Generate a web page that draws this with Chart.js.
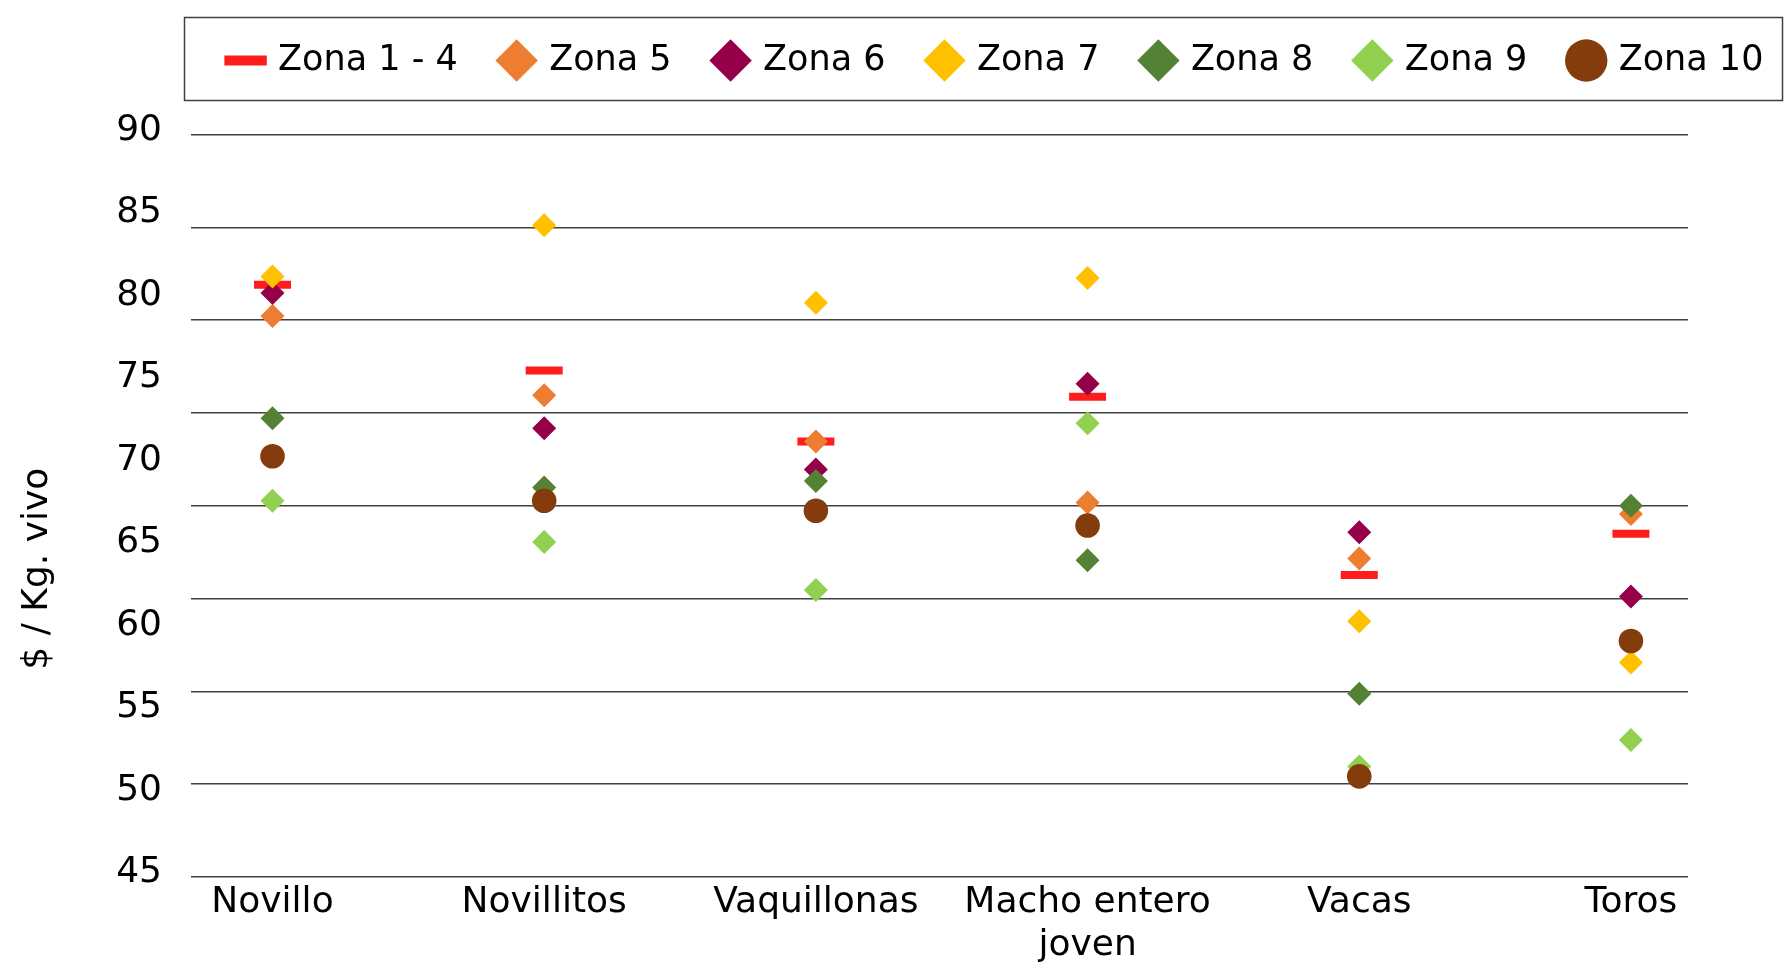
<!DOCTYPE html>
<html>
<head>
<meta charset="utf-8">
<script src="https://cdn.jsdelivr.net/npm/chart.js@4/dist/chart.umd.min.js"></script>
<style>
  html, body { margin: 0; padding: 0; background: #ffffff; }
  #wrap { position: relative; width: 1785px; height: 966px; }
</style>
</head>
<body>
<div id="wrap"><canvas id="c"></canvas></div>
<script>
// ---- data ----
const categories = ['Novillo', 'Novillitos', 'Vaquillonas', ['Macho entero', 'joven'], 'Vacas', 'Toros'];
const seriesNames = ['Zona 1 - 4', 'Zona 5', 'Zona 6', 'Zona 7', 'Zona 8', 'Zona 9', 'Zona 10'];
const zona1a4 = [80.9, 75.7, 71.4, 74.1, 63.3, 65.8];
const zona5   = [79.0, 74.2, 71.4, 67.7, 64.3, 67.0];
const zona6   = [80.4, 72.2, 69.7, 74.9, 65.9, 62.0];
const zona7   = [81.4, 84.5, 79.8, 81.3, 60.5, 58.0];
const zona8   = [72.8, 68.6, 69.0, 64.2, 56.1, 67.5];
const zona9   = [67.8, 65.3, 62.4, 72.5, 51.7, 53.3];
const zona10  = [70.5, 67.8, 67.2, 66.3, 51.1, 59.3];
const yTicks = [45, 50, 55, 60, 65, 70, 75, 80, 85, 90];
const yTitle = '$ / Kg. vivo';

// ---- styles ----
const seriesValues = [zona1a4, zona5, zona6, zona7, zona8, zona9, zona10];
const colors = ['#FF1C1C', '#ED7D31', '#960048', '#FFC000', '#548235', '#92D050', '#843C0C'];
const styles = ['line', 'rectRot', 'rectRot', 'rectRot', 'rectRot', 'rectRot', 'circle'];
const FONT = "'DejaVu Sans', sans-serif";
Chart.defaults.font.family = FONT;
Chart.defaults.color = '#000000';

const datasets = seriesValues.map((vals, s) => {
  const isLine = styles[s] === 'line';
  return {
    label: seriesNames[s],
    data: vals.map((v, i) => ({ x: i, y: v })),
    showLine: false,
    pointStyle: styles[s],
    pointRadius: isLine ? 18.5 : (styles[s] === 'circle' ? 12.3 : 12),
    pointHoverRadius: isLine ? 18.5 : 12,
    backgroundColor: colors[s],
    borderColor: colors[s],
    pointBackgroundColor: colors[s],
    pointBorderColor: colors[s],
    pointBorderWidth: isLine ? 8 : 0,
    order: seriesValues.length - s,
    xAxisID: 'x',
    yAxisID: 'y'
  };
});

const legendTweak = {
  id: 'legendTweak',
  afterLayout(chart) {
    const lg = chart.legend;
    if (lg) {
      lg.left = 109; lg.right = 1885;
      lg.top = -1; lg.bottom = lg.top + lg.height;
    }
  },
  afterDraw(chart) {
    const ctx = chart.ctx;
    ctx.save();
    ctx.strokeStyle = '#404040';
    ctx.lineWidth = 1.5;
    ctx.strokeRect(184.5, 17.5, 1598, 83);
    ctx.restore();
  }
};

new Chart(document.getElementById('c'), {
  type: 'scatter',
  data: { datasets },
  plugins: [legendTweak],
  options: {
    responsive: true,
    maintainAspectRatio: false,
    animation: false,
    layout: { padding: 0 },
    plugins: {
      tooltip: { enabled: false },
      legend: {
        display: true,
        position: 'top',
        align: 'center',
        labels: {
          usePointStyle: true,
          boxWidth: 30,
          boxHeight: 30,
          padding: 44,
          color: '#000000',
          font: { family: FONT, size: 35 },
          sort: (a, b) => a.datasetIndex - b.datasetIndex,
          generateLabels(chart) {
            const items = Chart.defaults.plugins.legend.labels.generateLabels(chart);
            items.forEach(it => { if (it.pointStyle === 'line') it.lineWidth = 10; else it.lineWidth = 0; });
            return items;
          }
        }
      }
    },
    scales: {
      x: {
        type: 'linear',
        position: 'bottom',
        min: -0.3,
        max: 5.21,
        grid: { display: false, drawTicks: false },
        border: { display: false },
        afterBuildTicks(scale) { scale.ticks = categories.map((c, i) => ({ value: i })); },
        ticks: {
          autoSkip: false,
          maxRotation: 0,
          padding: 4,
          color: '#000000',
          font: { family: FONT, size: 36, lineHeight: 1.2 },
          callback: (v) => categories[v]
        },
        afterFit(scale) { scale.height = 89; scale.paddingRight = 97; scale.paddingLeft = 0; }
      },
      y: {
        type: 'linear',
        position: 'left',
        min: yTicks[0],
        max: yTicks[yTicks.length - 1],
        afterBuildTicks(scale) { scale.ticks = yTicks.map(v => ({ value: v })); },
        grid: { display: false, drawTicks: false },
        border: { display: false },
        ticks: {
          padding: 29,
          labelOffset: -4,
          color: '#000000',
          font: { family: FONT, size: 36 }
        },
        title: {
          display: true,
          text: yTitle + '           ',
          color: '#000000',
          font: { family: FONT, size: 36, lineHeight: 1.2 },
          padding: { top: 16, bottom: 0 }
        },
        afterFit(scale) { scale.width = 191; scale.paddingTop = 134.5; scale.paddingBottom = 0; }
      },
      yg: {
        type: 'linear',
        position: 'left',
        min: 0,
        max: 8,
        ticks: { display: false, stepSize: 1 },
        grid: { display: true, drawTicks: false, color: '#404040', lineWidth: 1.5 },
        border: { display: false },
        afterFit(scale) { scale.width = 0; scale.paddingTop = 0; scale.paddingBottom = 0; }
      }
    }
  }
});
</script>
</body>
</html>
